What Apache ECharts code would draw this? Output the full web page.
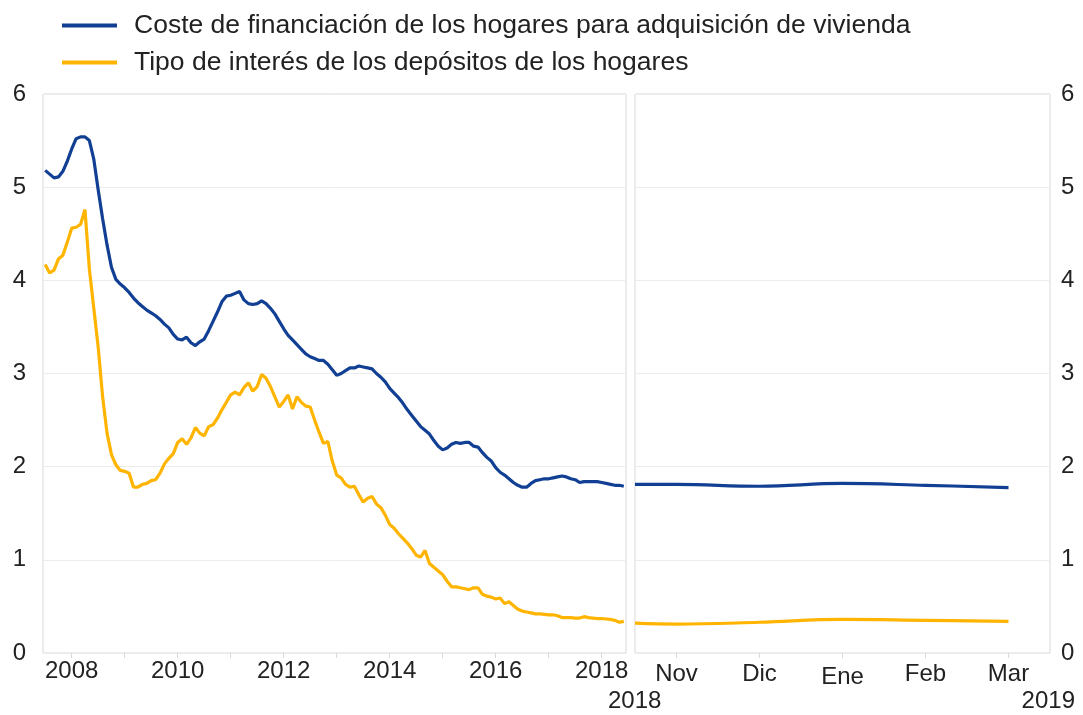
<!DOCTYPE html>
<html>
<head>
<meta charset="utf-8">
<script src="https://cdn.jsdelivr.net/npm/echarts@6/dist/echarts.min.js"></script>
<style>html,body{margin:0;padding:0;background:#fff}#c{width:1083px;height:715px}</style>
</head>
<body>
<div id="c"></div>
<script>
// ---- DATA ----
var seriesNames = ['Coste de financiación de los hogares para adquisición de vivienda', 'Tipo de interés de los depósitos de los hogares'];
// monthly, Jul 2007 .. Jun 2018
var startYear = 2007, startMonth = 7, monthCount = 132;
var costeVivienda = [
5.18,5.14,5.10,5.11,5.17,5.28,5.41,5.52,5.54,5.54,5.50,5.30,
4.97,4.66,4.38,4.14,4.01,3.96,3.92,3.87,3.81,3.76,3.72,3.68,
3.65,3.62,3.58,3.53,3.49,3.42,3.37,3.36,3.39,3.33,3.30,3.34,
3.37,3.46,3.56,3.66,3.77,3.83,3.84,3.86,3.88,3.79,3.75,3.74,
3.75,3.78,3.75,3.70,3.64,3.56,3.48,3.41,3.36,3.31,3.26,3.21,
3.18,3.16,3.14,3.14,3.10,3.04,2.98,3.00,3.03,3.06,3.06,3.08,
3.07,3.06,3.05,3.00,2.96,2.91,2.84,2.79,2.74,2.68,2.61,2.55,
2.49,2.43,2.39,2.35,2.28,2.22,2.18,2.20,2.24,2.26,2.25,2.26,
2.26,2.22,2.21,2.15,2.10,2.06,1.99,1.94,1.91,1.87,1.83,1.80,
1.78,1.78,1.82,1.85,1.86,1.87,1.87,1.88,1.89,1.90,1.89,1.87,
1.86,1.83,1.84,1.84,1.84,1.84,1.83,1.82,1.81,1.80,1.80,1.79
];
var tipoDepositos = [
4.17,4.08,4.11,4.23,4.27,4.41,4.56,4.57,4.60,4.76,4.12,3.70,
3.28,2.75,2.36,2.13,2.02,1.96,1.95,1.93,1.78,1.78,1.81,1.82,
1.85,1.86,1.93,2.03,2.09,2.14,2.26,2.30,2.24,2.31,2.42,2.36,
2.33,2.43,2.45,2.52,2.61,2.69,2.77,2.80,2.77,2.85,2.90,2.81,
2.86,2.99,2.95,2.86,2.75,2.64,2.70,2.77,2.62,2.75,2.69,2.65,
2.64,2.50,2.37,2.25,2.27,2.06,1.91,1.88,1.81,1.78,1.79,1.70,
1.62,1.66,1.68,1.60,1.56,1.48,1.38,1.34,1.28,1.23,1.18,1.12,
1.05,1.03,1.10,0.96,0.92,0.88,0.84,0.77,0.71,0.71,0.70,0.69,
0.68,0.70,0.70,0.63,0.61,0.60,0.58,0.59,0.53,0.55,0.51,0.47,
0.45,0.44,0.43,0.42,0.42,0.415,0.41,0.41,0.40,0.38,0.38,0.38,
0.375,0.375,0.39,0.38,0.375,0.37,0.37,0.365,0.36,0.35,0.33,0.34
];
// right panel: months Oct 2018 (mid) .. Mar 2019
var rightLabels = ['Nov', 'Dic', 'Ene', 'Feb', 'Mar'];
var rightMonthOffsets = [-0.5, 0, 1, 2, 3, 4];
var costeReciente = [1.81, 1.81, 1.79, 1.82, 1.80, 1.775];
var tipoReciente = [0.32, 0.31, 0.33, 0.36, 0.35, 0.34];
var yTicks = [0, 1, 2, 3, 4, 5, 6];
var bottomYearLabels = ['2018', '2019'];

// ---- build ----
var months = [];
for (var i = 0; i < monthCount; i++) {
  var m = startMonth - 1 + i;
  var y = startYear + Math.floor(m / 12);
  var mm = (m % 12) + 1;
  months.push(y + '-' + (mm < 10 ? '0' + mm : mm));
}
function pairs(xs, ys) { return xs.map(function (x, i) { return [x, ys[i]]; }); }

var BLUE = '#113f94', YELLOW = '#ffb400', TXT = '#222', GRID = '#ececec', BORDER = '#d9d9d9';
var FONT = 'Liberation Sans, Arial, sans-serif';
var chart = echarts.init(document.getElementById('c'), null, { renderer: 'canvas' });

var yAxisCommon = {
  type: 'value', min: yTicks[0], max: yTicks[yTicks.length - 1], interval: 1,
  axisLine: { show: false }, axisTick: { show: false },
  splitLine: { lineStyle: { color: GRID, width: 1 } },
  axisLabel: { color: TXT, fontSize: 24, fontFamily: FONT }
};

chart.setOption({
  animation: false,
  textStyle: { fontFamily: FONT },
  legend: {
    orient: 'vertical', left: 57, top: 7, itemGap: 10,
    itemWidth: 55, itemHeight: 4, icon: 'rect',
    textStyle: { color: TXT, fontSize: 26.5, lineHeight: 26, fontFamily: FONT, padding: [0, 0, 0, 12] },
    data: seriesNames
  },
  grid: [
    { left: 43, right: 457, top: 94, bottom: 62, show: true, borderColor: BORDER, borderWidth: 1 },
    { left: 635, right: 33, top: 94, bottom: 62, show: true, borderColor: BORDER, borderWidth: 1 }
  ],
  xAxis: [
    {
      type: 'category', gridIndex: 0, data: months, boundaryGap: true,
      axisLine: { show: false },
      axisTick: { show: true, alignWithLabel: true, length: 5, lineStyle: { color: BORDER },
        interval: function (idx, v) { return v.slice(5) === '01'; } },
      axisLabel: { color: TXT, fontSize: 24, fontFamily: FONT, margin: 6,
        interval: function (idx, v) { return v.slice(5) === '01' && (+v.slice(0, 4)) % 2 === 0; },
        formatter: function (v) { return v.slice(0, 4); } },
      splitLine: { show: false }
    },
    {
      type: 'category', gridIndex: 1, data: rightLabels, boundaryGap: true,
      axisLine: { show: false },
      axisTick: { show: true, alignWithLabel: true, length: 5, lineStyle: { color: BORDER } },
      axisLabel: { color: TXT, fontSize: 24, fontFamily: FONT, margin: 9, interval: 0,
        formatter: function (v) { return v === 'Ene' ? '{low|' + v + '}' : v; },
        rich: { low: { fontSize: 24, fontFamily: FONT, color: TXT, padding: [3, 0, 0, 0] } } },
      splitLine: { show: false }
    },
    {
      type: 'value', gridIndex: 1, min: -0.5, max: 4.5, show: false,
      splitLine: { show: false }
    }
  ],
  yAxis: [
    Object.assign({}, yAxisCommon, { gridIndex: 0, position: 'left', axisLabel: Object.assign({}, yAxisCommon.axisLabel, { margin: 17 }) }),
    Object.assign({}, yAxisCommon, { gridIndex: 1, position: 'right', axisLabel: Object.assign({}, yAxisCommon.axisLabel, { margin: 11 }) })
  ],
  series: [
    { name: seriesNames[0], type: 'line', xAxisIndex: 0, yAxisIndex: 0, data: costeVivienda,
      showSymbol: false, lineStyle: { color: BLUE, width: 3.2 }, itemStyle: { color: BLUE } },
    { name: seriesNames[1], type: 'line', xAxisIndex: 0, yAxisIndex: 0, data: tipoDepositos,
      showSymbol: false, lineStyle: { color: YELLOW, width: 3.2 }, itemStyle: { color: YELLOW } },
    { name: seriesNames[0], type: 'line', xAxisIndex: 2, yAxisIndex: 1, data: pairs(rightMonthOffsets, costeReciente),
      showSymbol: false, smooth: 0.4, lineStyle: { color: BLUE, width: 3.2 }, itemStyle: { color: BLUE } },
    { name: seriesNames[1], type: 'line', xAxisIndex: 2, yAxisIndex: 1, data: pairs(rightMonthOffsets, tipoReciente),
      showSymbol: false, smooth: 0.4, lineStyle: { color: YELLOW, width: 3.2 }, itemStyle: { color: YELLOW } }
  ],
  graphic: [
    { type: 'text', left: 608, top: 689, style: { text: bottomYearLabels[0], fill: TXT, font: '24px ' + FONT } },
    { type: 'text', right: 8, top: 689, style: { text: bottomYearLabels[1], fill: TXT, font: '24px ' + FONT } }
  ]
});
</script>
</body>
</html>
